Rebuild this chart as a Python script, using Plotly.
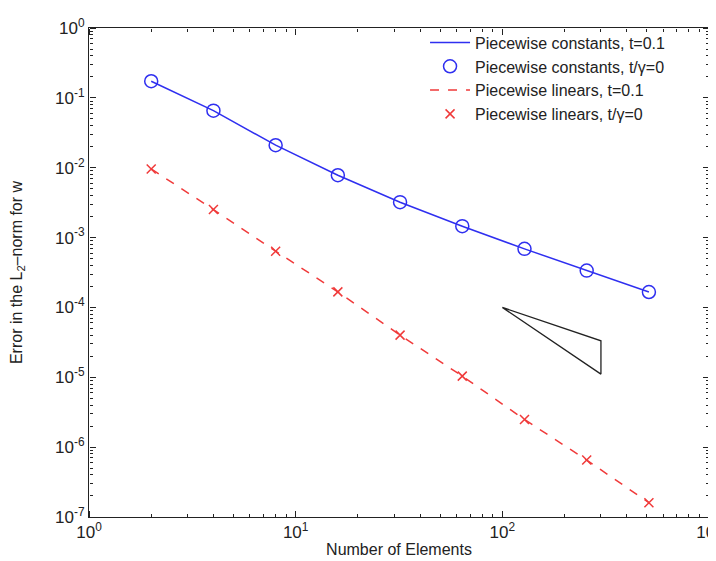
import plotly.graph_objects as go

elements = [2, 4, 8, 16, 32, 64, 128, 256, 512]
const_err = [0.173, 0.0656, 0.0210, 7.81e-3, 3.21e-3, 1.455e-3, 6.89e-4, 3.37e-4, 1.66e-4]
linear_err = [9.6e-3, 2.52e-3, 6.39e-4, 1.67e-4, 4.01e-5, 1.04e-5, 2.49e-6, 6.53e-7, 1.60e-7]
tri_x = [100, 300, 300, 100]
tri_y = [1e-4, 3.33e-5, 1.11e-5, 1e-4]

xtick_vals = [1, 10, 100, 1000]
xtick_text = ["10<sup>0</sup>", "10<sup>1</sup>", "10<sup>2</sup>", "10<sup>3</sup>"]
ytick_vals = [1e-7, 1e-6, 1e-5, 1e-4, 1e-3, 1e-2, 1e-1, 1]
ytick_text = ["10<sup>-7</sup>", "10<sup>-6</sup>", "10<sup>-5</sup>", "10<sup>-4</sup>",
              "10<sup>-3</sup>", "10<sup>-2</sup>", "10<sup>-1</sup>", "10<sup>0</sup>"]

x_minor = [k * 10 ** e for e in range(0, 3) for k in range(2, 10)]
y_minor = [k * 10.0 ** e for e in range(-7, 0) for k in range(2, 10)]

blue = "#2f2ff0"
red = "#f03a3a"
font_family = "Liberation Sans, Arial, sans-serif"
line_col = "#222222"
tick_font = dict(family=font_family, size=17, color="#222222")
title_font = dict(family=font_family, size=16, color="#222222")

fig = go.Figure()
fig.add_trace(go.Scatter(x=elements, y=const_err, mode="lines",
                         line=dict(color=blue, width=1.5),
                         name="Piecewise constants, t=0.1"))
fig.add_trace(go.Scatter(x=elements, y=const_err, mode="markers",
                         marker=dict(symbol="circle-open", size=13, color=blue, line=dict(width=1.5)),
                         name="Piecewise constants, t/γ=0"))
fig.add_trace(go.Scatter(x=elements, y=linear_err, mode="lines",
                         line=dict(color=red, width=1.5, dash="dash"),
                         name="Piecewise linears, t=0.1"))
fig.add_trace(go.Scatter(x=elements, y=linear_err, mode="markers",
                         marker=dict(symbol="x-thin-open", size=9, color=red, line=dict(width=1.5, color=red)),
                         name="Piecewise linears, t/γ=0"))
fig.add_trace(go.Scatter(x=tri_x, y=tri_y, mode="lines",
                         line=dict(color="#222222", width=1.3), showlegend=False, hoverinfo="skip"))
# invisible traces so the tick-only overlay axes are drawn
fig.add_trace(go.Scatter(x=[elements[0]], y=[const_err[0]], xaxis="x2", yaxis="y2", mode="markers",
                         marker=dict(opacity=0), showlegend=False, hoverinfo="skip"))
fig.add_trace(go.Scatter(x=[elements[0]], y=[const_err[0]], xaxis="x3", yaxis="y3", mode="markers",
                         marker=dict(opacity=0), showlegend=False, hoverinfo="skip"))


def tick_axis(rng, vals, minor_vals, overlay, side, position):
    # an overlay axis drawn at a plot edge, with its "outside" ticks pointing into the plot
    return dict(type="log", range=rng, overlaying=overlay, anchor="free", position=position,
                side=side, tickmode="array", tickvals=vals, ticks="outside", ticklen=6,
                tickwidth=1, tickcolor=line_col, showticklabels=False, showline=False,
                showgrid=False, zeroline=False, automargin=False,
                minor=dict(ticks="outside", ticklen=3, tickwidth=1, tickcolor=line_col,
                           tickmode="array", tickvals=minor_vals, showgrid=False))


fig.update_layout(
    width=716, height=561,
    margin=dict(l=81, r=15, t=20, b=52, autoexpand=False),
    paper_bgcolor="white", plot_bgcolor="white",
    xaxis=dict(type="log", range=[0, 3], tickmode="array", automargin=False,
               tickvals=xtick_vals, ticktext=xtick_text, ticks="", tickfont=tick_font,
               showline=True, linecolor=line_col, linewidth=1, mirror=True,
               showgrid=False, zeroline=False,
               title=dict(text="Number of Elements", standoff=2, font=title_font)),
    yaxis=dict(type="log", range=[-7, 0], tickmode="array", automargin=False,
               tickvals=ytick_vals, ticktext=ytick_text, ticks="", tickfont=tick_font,
               showline=True, linecolor=line_col, linewidth=1, mirror=True,
               showgrid=False, zeroline=False,
               title=dict(text="Error in the L<sub>2</sub>\u2013norm for w", standoff=34, font=title_font)),
    xaxis2=tick_axis([0, 3], xtick_vals, x_minor, "x", "top", 0),
    xaxis3=tick_axis([0, 3], xtick_vals, x_minor, "x", "bottom", 1),
    yaxis2=tick_axis([-7, 0], ytick_vals, y_minor, "y", "right", 0),
    yaxis3=tick_axis([-7, 0], ytick_vals, y_minor, "y", "left", 1),
    legend=dict(x=0.542, y=1.005, xanchor="left", yanchor="top", bgcolor="rgba(255,255,255,0)",
                font=dict(family=font_family, size=16, color="#222222"),
                tracegroupgap=0, itemwidth=40),
)

fig.write_html("out.html")
